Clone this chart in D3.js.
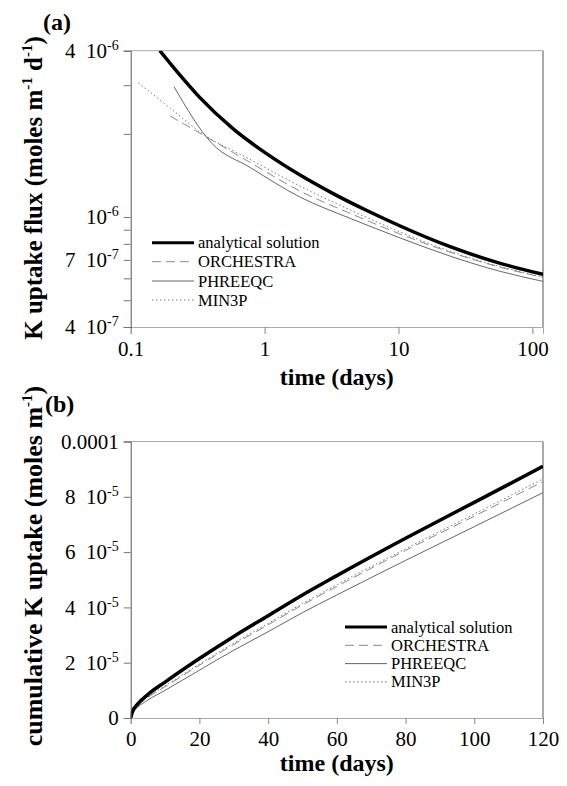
<!DOCTYPE html>
<head>
  <meta charset="UTF-8">
  <style>
    *{ margin: 0px; }
    body{ background-color: white; }
    svg{
      position: absolute;
      font-family: "Liberation Serif", "Times New Roman", serif;
    }
    svg text{ font-family: "Liberation Serif", "Times New Roman", serif; }
    .tick text{ font-size: 21px; fill: black; }
    .axis-title{ font-size: 24px; font-weight: bold; }
    .y-title{ font-size: 25px; font-weight: bold; }
    .legend text{ font-size: 16.5px; }
  </style>
  <script src="https://d3js.org/d3.v7.min.js"></script>
</head>

<body>
  <svg id="chart" width="567" height="786"></svg>

  <script>
    // (a) K uptake flux, log-log
    var fluxAnalyticalT = [0.165, 0.23, 0.33, 0.58, 1.04, 1.84, 3.25, 5.8, 10.3, 24.3, 57.5, 120];
    var fluxAnalytical = [4.0e-6, 3.29e-6, 2.70e-6, 2.09e-6, 1.693e-6, 1.419e-6, 1.216e-6, 1.056e-6, 9.28e-7, 7.81e-7, 6.8e-7, 6.2e-7];
    var fluxOrchestraT = [0.197, 0.403, 0.779, 1.84, 4.36, 10.3, 24.3, 57.5, 120];
    var fluxOrchestra = [2.32e-6, 1.90e-6, 1.576e-6, 1.242e-6, 1.031e-6, 8.68e-7, 7.46e-7, 6.58e-7, 6.05e-7];
    var fluxPhreeqcT = [0.211, 0.403, 0.779, 1.84, 4.36, 10.3, 24.3, 57.5, 120];
    var fluxPhreeqc = [2.96e-6, 1.85e-6, 1.512e-6, 1.181e-6, 9.89e-7, 8.40e-7, 7.22e-7, 6.36e-7, 5.85e-7];
    var fluxMin3pT = [0.114, 0.197, 0.330, 0.779, 1.84, 4.36, 10.3, 24.3, 57.5, 120];
    var fluxMin3p = [3.06e-6, 2.48e-6, 2.03e-6, 1.617e-6, 1.294e-6, 1.061e-6, 8.83e-7, 7.52e-7, 6.62e-7, 6.07e-7];

    var fluxXTicks = [0.1, 1, 10, 100];
    var fluxXLabels = ["0.1", "1", "10", "100"];
    var fluxYTicks = [4e-7, 5e-7, 6e-7, 7e-7, 8e-7, 9e-7, 1e-6, 2e-6, 3e-6, 4e-6];
    var fluxYLabels = {"4e-7": ["4", "-7"], "7e-7": ["7", "-7"], "0.000001": ["", "-6"], "0.000004": ["4", "-6"]};

    // (b) cumulative K uptake
    var cumT = [0, 0.5, 2, 5, 10, 20, 30, 40, 50, 60, 80, 100, 120];
    var cumAnalytical = [0, 2.2e-6, 5.0e-6, 8.5e-6, 1.3e-5, 2.15e-5, 2.95e-5, 3.7e-5, 4.45e-5, 5.15e-5, 6.5e-5, 7.8e-5, 9.1e-5];
    var cumOrchestra = [0, 1.9e-6, 4.3e-6, 7.4e-6, 1.13e-5, 1.91e-5, 2.66e-5, 3.37e-5, 4.09e-5, 4.76e-5, 6.06e-5, 7.3e-5, 8.55e-5];
    var cumPhreeqc = [0, 1.7e-6, 3.8e-6, 6.5e-6, 1.0e-5, 1.73e-5, 2.45e-5, 3.12e-5, 3.81e-5, 4.45e-5, 5.7e-5, 6.92e-5, 8.15e-5];
    var cumMin3p = [0, 2.0e-6, 4.5e-6, 7.6e-6, 1.16e-5, 1.95e-5, 2.71e-5, 3.42e-5, 4.14e-5, 4.82e-5, 6.12e-5, 7.38e-5, 8.65e-5];

    var cumXTicks = [0, 20, 40, 60, 80, 100, 120];
    var cumYTicks = [0, 2e-5, 4e-5, 6e-5, 8e-5, 1e-4];
    var cumYLabels = [["0", null], ["2", "-5"], ["4", "-5"], ["6", "-5"], ["8", "-5"], ["0.0001", null]];

    var seriesNames = ["analytical solution", "ORCHESTRA", "PHREEQC", "MIN3P"];
    var styles = [
      {stroke: "#000", width: 3.5, dash: null},
      {stroke: "#8a8a8a", width: 1, dash: "9,5"},
      {stroke: "#555", width: 0.9, dash: null},
      {stroke: "#777", width: 1, dash: "1.5,2.5"}
    ];

    var svg = d3.select("#chart");
    var left = 130.7, right = 543;

    // panel (a) scales
    var xa = d3.scaleLog().domain([0.1, 120]).range([left, right]);
    var ya = d3.scaleLog().domain([4e-7, 4e-6]).range([327, 50.7]);

    // panel (b) scales
    var xb = d3.scaleLinear().domain([0, 120]).range([left, right]);
    var yb = d3.scaleLinear().domain([0, 1e-4]).range([718, 441.5]);

    function sci(text, mant, exp){
      text.text(null);
      if(exp === null){
        text.append("tspan").text(mant);
        return;
      }
      text.append("tspan").text((mant ? mant + "\u2002" : "") + "10");
      text.append("tspan").attr("font-size", "14px").attr("dy", "-8").text(exp);
    }

    function frame(g, x, y){
      var x0 = x.range()[0], x1 = x.range()[1], y0 = y.range()[0], y1 = y.range()[1];
      g.append("line").attr("x1", x0).attr("x2", x1).attr("y1", y1).attr("y2", y1).attr("stroke", "#aaa");
      g.append("line").attr("x1", x1).attr("x2", x1).attr("y1", y1).attr("y2", y0).attr("stroke", "#555");
    }

    function drawPanel(x, y, series, clipId){
      var g = svg.append("g");
      g.append("clipPath").attr("id", clipId).append("rect")
        .attr("x", x.range()[0]).attr("y", y.range()[1])
        .attr("width", x.range()[1] - x.range()[0])
        .attr("height", y.range()[0] - y.range()[1]);
      frame(g, x, y);
      var line = d3.line().x(d => x(d[0])).y(d => y(d[1])).curve(d3.curveMonotoneX);
      var order = [2, 1, 3, 0];
      order.forEach(function(i){
        g.append("path")
          .datum(d3.zip(series[i][0], series[i][1]))
          .attr("clip-path", "url(#" + clipId + ")")
          .attr("fill", "none")
          .attr("stroke", styles[i].stroke)
          .attr("stroke-width", styles[i].width)
          .attr("stroke-dasharray", styles[i].dash)
          .attr("d", line);
      });
      return g;
    }

    function legend(x0, rows){
      var g = svg.append("g").attr("class", "legend");
      seriesNames.forEach(function(name, i){
        g.append("line")
          .attr("x1", x0).attr("x2", x0 + 42)
          .attr("y1", rows[i]).attr("y2", rows[i])
          .attr("stroke", styles[i].stroke)
          .attr("stroke-width", i === 0 ? 3 : styles[i].width)
          .attr("stroke-dasharray", styles[i].dash);
        g.append("text")
          .attr("x", x0 + 46).attr("y", rows[i] + 5.5)
          .text(name);
      });
    }

    function styleAxis(ax, domainColor, tickColor){
      ax.attr("font-family", null).attr("font-size", null);
      ax.select(".domain").attr("stroke", domainColor);
      ax.selectAll(".tick line").attr("stroke", tickColor);
    }

    function yTitle(cy, size, parts){
      var t = svg.append("text").attr("class", "y-title")
        .attr("font-size", size)
        .style("font-size", size + "px")
        .attr("transform", "translate(42," + cy + ") rotate(-90)")
        .attr("text-anchor", "middle");
      parts.forEach(function(p){
        if(p.sup) t.append("tspan").style("font-size", "15px").attr("dy", "-10").text(p.sup);
        else t.append("tspan").attr("dy", p.down ? "10" : null).text(p.text);
      });
    }

    // ---------- panel (a) ----------
    drawPanel(xa, ya, [
      [fluxAnalyticalT, fluxAnalytical],
      [fluxOrchestraT, fluxOrchestra],
      [fluxPhreeqcT, fluxPhreeqc],
      [fluxMin3pT, fluxMin3p]
    ], "clipA");

    var axA = svg.append("g").attr("transform", "translate(0," + ya.range()[0] + ")")
      .call(d3.axisBottom(xa).tickValues(fluxXTicks).tickSize(7).tickPadding(6)
        .tickFormat((d, i) => fluxXLabels[i]));
    styleAxis(axA, "#aaa", "#888");
    axA.selectAll(".tick text").attr("dy", "0.76em");

    var ayA = svg.append("g").attr("transform", "translate(" + left + ",0)")
      .call(d3.axisLeft(ya).tickValues(fluxYTicks).tickSize(7).tickPadding(5).tickFormat(""));
    styleAxis(ayA, "#555", "#777");
    ayA.selectAll(".tick text").each(function(d){
      var key = String(d);
      if(fluxYLabels[key]) sci(d3.select(this), fluxYLabels[key][0], fluxYLabels[key][1]);
    });

    svg.append("text").attr("class", "axis-title")
      .attr("x", (left + right) / 2).attr("y", 385)
      .attr("text-anchor", "middle").text("time (days)");

    yTitle(188, 25, [
      {text: "K uptake flux (moles m"}, {sup: "-1"},
      {text: " d", down: true}, {sup: "-1"}, {text: ")", down: true}
    ]);

    svg.append("text").attr("class", "axis-title").attr("x", 43).attr("y", 30).text("(a)");

    legend(152, [242.7, 261.7, 281, 300]);

    // ---------- panel (b) ----------
    drawPanel(xb, yb, [
      [cumT, cumAnalytical],
      [cumT, cumOrchestra],
      [cumT, cumPhreeqc],
      [cumT, cumMin3p]
    ], "clipB");

    var axB = svg.append("g").attr("transform", "translate(0," + yb.range()[0] + ")")
      .call(d3.axisBottom(xb).tickValues(cumXTicks).tickSize(6).tickPadding(7).tickFormat(d3.format("d")));
    styleAxis(axB, "#aaa", "#888");
    axB.selectAll(".tick text").attr("dy", "0.72em");

    var ayB = svg.append("g").attr("transform", "translate(" + left + ",0)")
      .call(d3.axisLeft(yb).tickValues(cumYTicks).tickSize(7).tickPadding(5).tickFormat(""));
    styleAxis(ayB, "#555", "#777");
    ayB.selectAll(".tick text").each(function(d, i){
      sci(d3.select(this), cumYLabels[i][0], cumYLabels[i][1]);
    });

    svg.append("text").attr("class", "axis-title")
      .attr("x", (left + right) / 2).attr("y", 771)
      .attr("text-anchor", "middle").text("time (days)");

    yTitle(566, 26, [
      {text: "cumulative K uptake (moles m"}, {sup: "-1"}, {text: ")", down: true}
    ]);

    svg.append("text").attr("class", "axis-title").attr("x", 45).attr("y", 412).text("(b)");

    legend(345, [627, 645.3, 663.6, 681.9]);
  </script>
</body>
